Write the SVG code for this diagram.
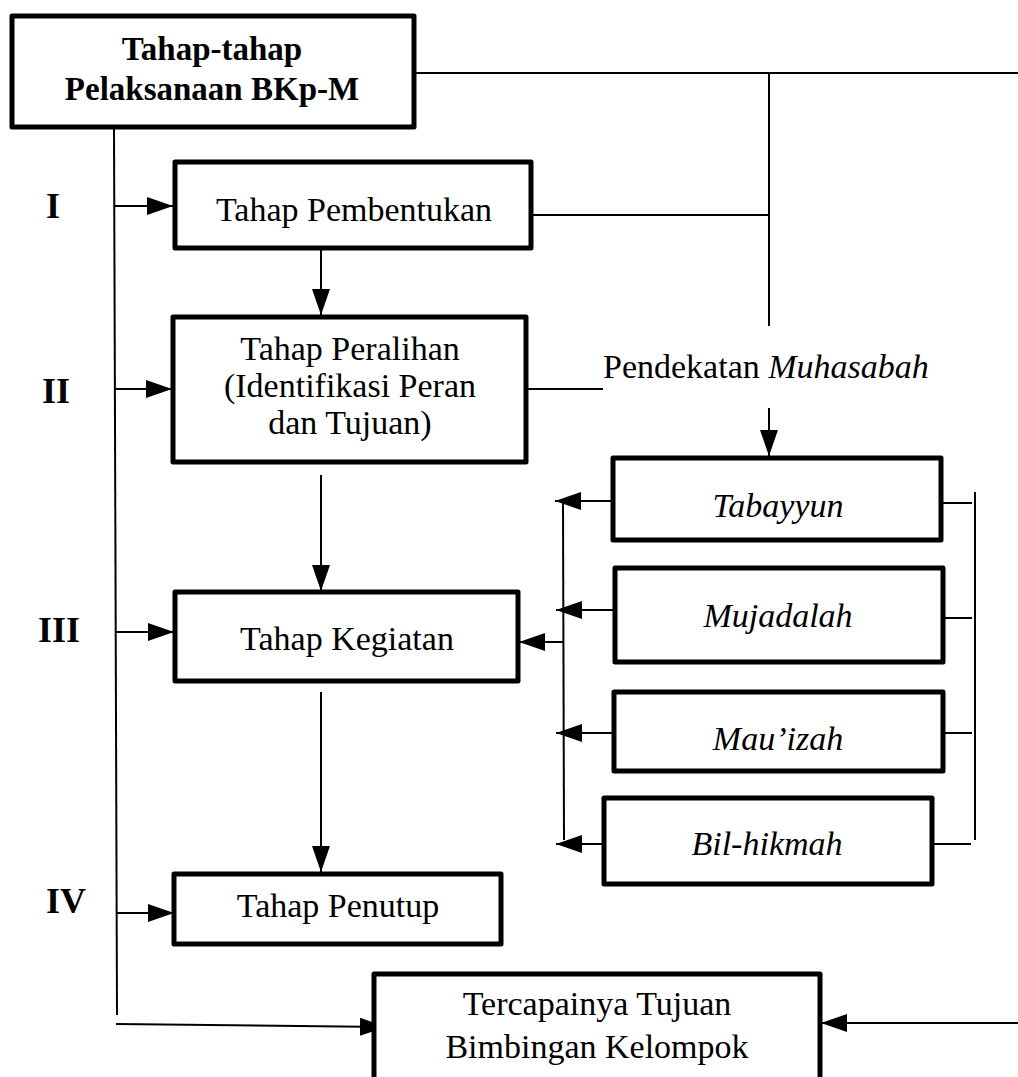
<svg xmlns="http://www.w3.org/2000/svg" width="1018" height="1077" viewBox="0 0 1018 1077">
<style>
.box{fill:#fff;stroke:#000;stroke-width:5;stroke-linejoin:round}
.t{font-family:"Liberation Serif","Times New Roman",serif;font-size:34px;fill:#000;text-anchor:middle}
.b{font-weight:bold;font-size:33px}
.lab{font-family:"Liberation Serif","Times New Roman",serif;font-weight:bold;font-size:36px;fill:#000;text-anchor:middle}
.i{font-style:italic}
.c{fill:none;stroke:#000;stroke-width:2}
.a{fill:none;stroke:#000;stroke-width:2;marker-end:url(#ah)}
</style>
<defs>
<marker id="ah" markerUnits="userSpaceOnUse" markerWidth="26" markerHeight="18" refX="26" refY="9" orient="auto">
<path d="M0,0 L26,9 L0,18 z" fill="#000"/>
</marker>
</defs>
<rect width="1018" height="1077" fill="#fff"/>
<g id="connectors">
<line class="c" x1="114" y1="128" x2="117" y2="1015"/>
<line class="a" x1="114" y1="206" x2="173" y2="206"/>
<line class="a" x1="115" y1="389" x2="172" y2="389"/>
<line class="a" x1="116" y1="632" x2="174" y2="632"/>
<line class="a" x1="117" y1="913" x2="174" y2="913"/>
<line class="a" x1="116" y1="1024" x2="386" y2="1027"/>
<line class="c" x1="415" y1="73" x2="1018" y2="73"/>
<line class="c" x1="769" y1="73" x2="769" y2="326"/>
<line class="c" x1="523" y1="215" x2="769" y2="215"/>
<line class="c" x1="527" y1="389" x2="603" y2="389"/>
<line class="a" x1="769" y1="408" x2="769" y2="456"/>
<line class="a" x1="321" y1="248" x2="321" y2="315"/>
<line class="a" x1="321" y1="475" x2="321" y2="591"/>
<line class="a" x1="321" y1="692" x2="321" y2="872"/>
<line class="c" x1="563" y1="503" x2="564" y2="840"/>
<line class="a" x1="613" y1="501" x2="555" y2="501"/>
<line class="a" x1="615" y1="610" x2="556" y2="610"/>
<line class="a" x1="614" y1="733" x2="556" y2="733"/>
<line class="a" x1="604" y1="844" x2="556" y2="844"/>
<line class="a" x1="563" y1="642" x2="519" y2="642"/>
<line class="c" x1="941" y1="503" x2="972" y2="503"/>
<line class="c" x1="933" y1="618" x2="972" y2="618"/>
<line class="c" x1="933" y1="733" x2="972" y2="733"/>
<line class="c" x1="932" y1="844" x2="971" y2="844"/>
<line class="c" x1="975" y1="492" x2="975" y2="840"/>
<line class="a" x1="1018" y1="1023" x2="821" y2="1023"/>
</g>
<g id="n-main">
<rect class="box" x="12" y="16" width="402" height="111"/>
<text class="t b" x="212" y="60">Tahap-tahap</text>
<text class="t b" x="212" y="100">Pelaksanaan BKp-M</text>
</g>
<g id="n-pembentukan">
<rect class="box" x="175" y="162" width="356" height="86"/>
<text class="t" x="354" y="221">Tahap Pembentukan</text>
</g>
<g id="n-peralihan">
<rect class="box" x="173" y="317" width="353" height="145"/>
<text class="t" x="350" y="360">Tahap Peralihan</text>
<text class="t" x="350" y="397">(Identifikasi Peran</text>
<text class="t" x="350" y="434">dan Tujuan)</text>
</g>
<g id="n-pendekatan">
<text class="t" x="603" y="378" style="text-anchor:start">Pendekatan <tspan class="i">Muhasabah</tspan></text>
</g>
<g id="n-kegiatan">
<rect class="box" x="175" y="592" width="343" height="89"/>
<text class="t" x="347" y="650">Tahap Kegiatan</text>
</g>
<g id="n-penutup">
<rect class="box" x="174" y="874" width="327" height="70"/>
<text class="t" x="338" y="917">Tahap Penutup</text>
</g>
<g id="n-tercapainya">
<rect class="box" x="374" y="974" width="446" height="130"/>
<text class="t" x="597" y="1015">Tercapainya Tujuan</text>
<text class="t" x="597" y="1058">Bimbingan Kelompok</text>
</g>
<g id="n-tabayyun">
<rect class="box" x="613" y="458" width="328" height="82"/>
<text class="t i" x="778" y="517">Tabayyun</text>
</g>
<g id="n-mujadalah">
<rect class="box" x="615" y="568" width="328" height="94"/>
<text class="t i" x="778" y="627">Mujadalah</text>
</g>
<g id="n-mauizah">
<rect class="box" x="614" y="692" width="329" height="79"/>
<text class="t i" x="778" y="750">Mau’izah</text>
</g>
<g id="n-bilhikmah">
<rect class="box" x="604" y="798" width="328" height="86"/>
<text class="t i" x="767" y="855">Bil-hikmah</text>
</g>
<g id="labels">
<text class="lab" x="53" y="218">I</text>
<text class="lab" x="56" y="403">II</text>
<text class="lab" x="59" y="642">III</text>
<text class="lab" x="66" y="913">IV</text>
</g>
</svg>
